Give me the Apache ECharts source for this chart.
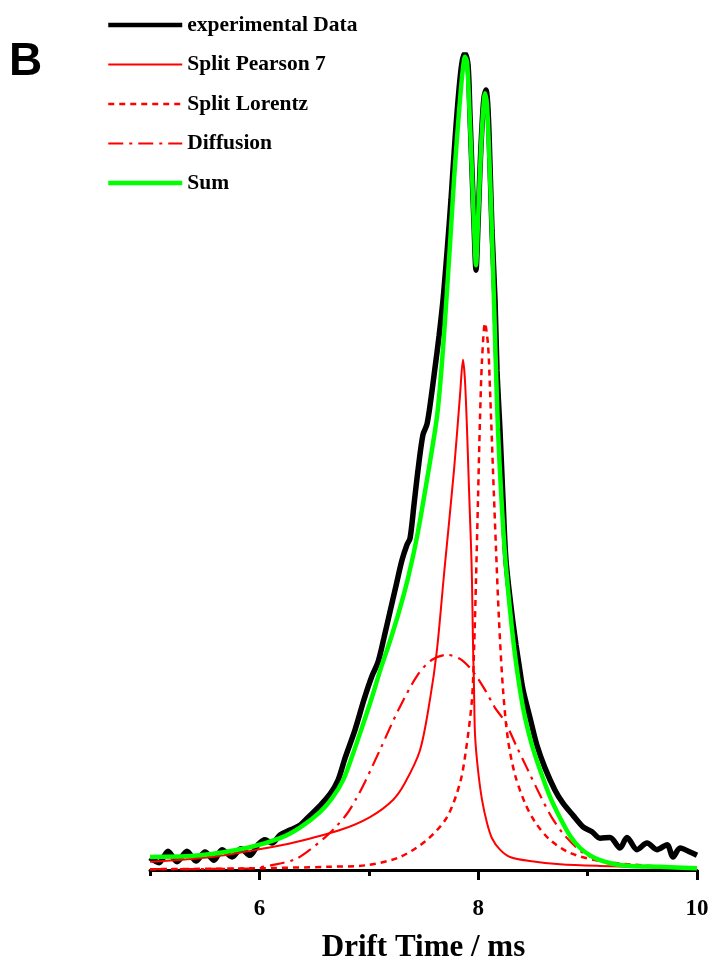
<!DOCTYPE html>
<html>
<head>
<meta charset="utf-8">
<script src="https://cdn.jsdelivr.net/npm/echarts@6/dist/echarts.min.js"></script>
<style>
html,body{margin:0;padding:0;background:#fff;}
#c{width:713px;height:964px;}
</style>
</head>
<body>
<div id="c"></div>
<script>
// ---- data (drift time in ms, normalized intensity) ----
var seriesNames = ['experimental Data', 'Split Pearson 7', 'Split Lorentz', 'Diffusion', 'Sum'];
var xTickLabels = [6, 8, 10];
var xMinorTicks = [5, 7, 9];

var expX = [5.000,5.082,5.165,5.247,5.338,5.420,5.503,5.585,5.658,5.750,5.832,5.914,5.987,6.051,6.115,6.188,6.280,6.371,6.463,
  6.554,6.645,6.718,6.782,6.874,6.956,7.029,7.084,7.139,7.194,7.249,7.303,7.349,7.377,7.413,7.450,7.495,7.532,7.569,7.605,7.642,7.678,
  7.715,7.751,7.788,7.824,7.852,7.879,7.907,7.925,7.943,7.962,7.980,7.998,8.016,8.035,8.053,8.071,8.090,8.108,8.126,8.154,8.172,8.199,
  8.227,8.254,8.309,8.346,8.373,8.410,8.473,8.537,8.611,8.702,8.775,8.867,8.958,9.040,9.113,9.205,9.296,9.360,9.452,9.543,9.634,9.726,
  9.781,9.845,9.936,10.000];
var expY = [0.015,0.009,0.023,0.010,0.023,0.011,0.022,0.012,0.025,0.016,0.026,0.018,0.031,0.037,0.033,0.043,0.049,0.055,0.067,
  0.079,0.093,0.110,0.137,0.172,0.209,0.238,0.255,0.285,0.317,0.349,0.380,0.399,0.407,0.448,0.491,0.534,0.547,0.579,0.616,0.655,0.699,
  0.758,0.822,0.896,0.957,0.991,1.002,0.988,0.926,0.859,0.791,0.736,0.791,0.859,0.914,0.948,0.957,0.933,0.865,0.785,0.699,0.613,0.540,
  0.454,0.380,0.313,0.276,0.252,0.221,0.187,0.153,0.125,0.098,0.082,0.067,0.053,0.047,0.039,0.040,0.027,0.040,0.025,0.033,0.025,0.031,
  0.016,0.027,0.022,0.018];

var pearsonX = [5.000,5.567,6.024,6.325,6.737,7.011,7.221,7.331,7.468,7.559,7.623,7.687,7.779,7.834,7.861,7.879,7.898,7.916,7.934,7.943,
  7.952,7.962,7.971,7.998,8.035,8.080,8.126,8.199,8.291,8.473,8.748,9.113,10.000];
var pearsonY = [0.010,0.016,0.026,0.034,0.049,0.065,0.086,0.107,0.147,0.209,0.270,0.362,0.491,0.583,0.626,0.601,0.540,0.467,0.399,0.356,
  0.282,0.221,0.166,0.123,0.086,0.058,0.039,0.025,0.016,0.011,0.007,0.005,0.002];

var lorentzX = [5.000,5.914,6.646,6.984,7.285,7.532,7.715,7.834,7.888,7.943,7.962,7.980,7.998,8.016,8.035,8.062,8.090,8.108,8.135,8.163,
  8.190,8.227,8.272,8.336,8.428,8.519,8.656,8.839,9.113,9.570,10.000];
var lorentzY = [0.001,0.002,0.004,0.006,0.016,0.037,0.065,0.107,0.147,0.209,0.270,0.356,0.454,0.552,0.626,0.671,0.644,0.589,0.491,0.393,
  0.307,0.221,0.160,0.117,0.082,0.059,0.037,0.021,0.011,0.005,0.002];

var diffX = [5.000,5.914,6.115,6.325,6.463,6.600,6.700,6.801,6.883,6.965,7.111,7.276,7.450,7.578,7.715,7.834,7.943,8.062,8.154,8.245,
  8.346,8.446,8.565,8.675,8.793,8.958,9.113,9.269,9.662,10.000];
var diffY = [0.001,0.002,0.006,0.013,0.025,0.040,0.053,0.069,0.087,0.108,0.150,0.198,0.240,0.258,0.264,0.259,0.245,0.221,0.199,0.182,
  0.153,0.125,0.092,0.064,0.042,0.021,0.012,0.007,0.004,0.002];

var sumX = [5.000,5.457,5.914,6.188,6.371,6.554,6.664,6.764,6.846,6.938,7.029,7.111,7.194,7.276,7.358,7.441,7.532,7.623,7.669,7.706,
  7.742,7.779,7.815,7.843,7.861,7.879,7.898,7.916,7.943,7.962,7.980,7.998,8.016,8.035,8.053,8.062,8.080,8.099,8.117,8.144,
  8.163,8.181,8.208,8.245,8.291,8.336,8.382,8.428,8.492,8.565,8.656,8.748,8.839,8.931,9.022,9.113,9.250,9.388,9.662,10.000];
var sumY = [0.016,0.018,0.028,0.039,0.052,0.071,0.088,0.110,0.139,0.175,0.212,0.248,0.281,0.317,0.358,0.409,0.479,0.556,0.623,0.693,
  0.767,0.847,0.914,0.960,0.984,0.998,0.991,0.945,0.855,0.791,0.742,0.795,0.855,0.910,0.945,0.953,0.939,0.883,0.816,0.699,
  0.613,0.540,0.466,0.387,0.319,0.264,0.221,0.187,0.153,0.123,0.090,0.064,0.042,0.027,0.018,0.012,0.007,0.005,0.004,0.002];

function pairs(xs, ys){ var out=[]; for (var i=0;i<xs.length;i++) out.push([xs[i], ys[i]]); return out; }

var serif = '"Liberation Serif", "DejaVu Serif", serif';
var chart = echarts.init(document.getElementById('c'), null, {renderer:'canvas'});
var legendWidths = [4.5, 2, 2.5, 2.2, 4.5];
var option = {
  backgroundColor: '#ffffff',
  animation: false,
  grid: {left: 150, right: 16, top: 55, bottom: 94, containLabel: false, outerBoundsMode: 'none'},
  legend: {
    orient: 'vertical', left: 106, top: 14, padding: 0,
    itemWidth: 74, itemHeight: 14, itemGap: 17.5,
    itemStyle: {opacity: 0, borderWidth: 0},
    textStyle: {fontFamily: serif, fontWeight: 'bold', fontSize: 21.5, lineHeight: 20, color: '#000'},
    data: seriesNames.map(function(n, i){ return {name: n, lineStyle: {width: legendWidths[i]}}; })
  },
  xAxis: [{
    type: 'value', min: 5, max: 10, interval: 1,
    position: 'bottom',
    axisLine: {show: true, lineStyle: {color: '#000', width: 3}},
    axisTick: {show: true, customValues: xTickLabels, length: 10, inside: false, lineStyle: {color:'#000', width: 3}},
    axisLabel: {show: true, customValues: xTickLabels, margin: 28, fontFamily: serif, fontWeight:'bold', fontSize: 23, color:'#000'},
    splitLine: {show: false},
    name: 'Drift Time / ms', nameLocation: 'middle', nameGap: 62,
    nameTextStyle: {fontFamily: serif, fontWeight:'bold', fontSize: 31, color:'#000'}
  },{
    type: 'value', min: 5, max: 10, interval: 1,
    position: 'bottom',
    axisLine: {show: false},
    axisTick: {show: true, customValues: xMinorTicks, length: 6, lineStyle: {color:'#000', width: 3}},
    axisLabel: {show: false},
    splitLine: {show: false}
  }],
  yAxis: {type: 'value', min: 0, max: 1, show: false},
  graphic: [{
    type: 'text', left: 9, top: 39,
    style: {text: 'B', font: 'bold 46px "Liberation Sans", Arial, sans-serif', fill: '#000'}
  }],
  series: [
    {name: seriesNames[0], type: 'line', data: pairs(expX, expY), showSymbol: false, symbol:'none', smooth: 0.3,
      lineStyle: {color:'#000', width: 5.5}, itemStyle:{color:'#000'}, z: 2},
    {name: seriesNames[1], type: 'line', data: pairs(pearsonX, pearsonY), showSymbol: false, symbol:'none', smooth: 0.3,
      lineStyle: {color:'#ff0000', width: 2}, itemStyle:{color:'#ff0000'}, z: 3},
    {name: seriesNames[2], type: 'line', data: pairs(lorentzX, lorentzY), showSymbol: false, symbol:'none', smooth: 0.3,
      lineStyle: {color:'#ff0000', width: 2.5, type: [6,5]}, itemStyle:{color:'#ff0000'}, z: 3},
    {name: seriesNames[3], type: 'line', data: pairs(diffX, diffY), showSymbol: false, symbol:'none', smooth: 0.3,
      lineStyle: {color:'#ff0000', width: 2.2, type: [15,6,3,6]}, itemStyle:{color:'#ff0000'}, z: 3},
    {name: seriesNames[4], type: 'line', data: pairs(sumX, sumY), showSymbol: false, symbol:'none', smooth: 0.3,
      lineStyle: {color:'#00ff00', width: 4.5}, itemStyle:{color:'#00ff00'}, z: 4}
  ]
};
chart.setOption(option);
</script>
</body>
</html>
